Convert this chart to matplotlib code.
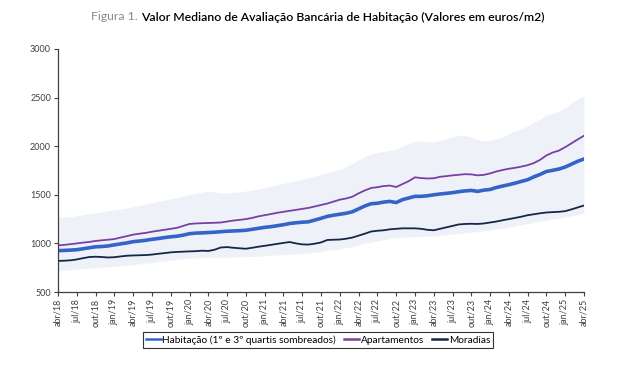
import numpy as np
import matplotlib
matplotlib.use("Agg")
import matplotlib.pyplot as plt

# monthly values, abr/18 .. abr/25 (85 months)
habitacao = [925, 928, 931, 935, 945, 955, 965, 968, 974, 985,
             995, 1005, 1018, 1024, 1032, 1042, 1050, 1060, 1068, 1074,
             1085, 1100, 1106, 1108, 1112, 1115, 1120, 1125, 1128, 1131,
             1135, 1145, 1155, 1165, 1172, 1182, 1192, 1205, 1212, 1218,
             1222, 1240, 1258, 1278, 1290, 1300, 1310, 1325, 1355, 1385,
             1408, 1413, 1425, 1432, 1420, 1450, 1467, 1484, 1484, 1490,
             1500, 1508, 1515, 1522, 1532, 1540, 1545, 1535, 1548, 1555,
             1575, 1590, 1604, 1620, 1638, 1655, 1685, 1710, 1740, 1752,
             1765, 1786, 1815, 1845, 1868]

apartamentos = [979, 985, 992, 1000, 1008, 1015, 1025, 1032, 1038, 1045,
                1060, 1075, 1090, 1100, 1108, 1120, 1130, 1140, 1150, 1160,
                1180, 1200, 1205, 1208, 1210, 1212, 1215, 1225, 1235, 1242,
                1250, 1262, 1278, 1290, 1302, 1315, 1325, 1335, 1345, 1355,
                1365, 1380, 1395, 1410, 1430, 1450, 1462, 1480, 1515, 1545,
                1570, 1578, 1590, 1595, 1580, 1610, 1640, 1680, 1672, 1668,
                1670, 1685, 1692, 1700, 1706, 1712, 1710, 1700, 1705, 1720,
                1740, 1755, 1768, 1778, 1790, 1805, 1827, 1860, 1905, 1935,
                1955, 1990, 2030, 2070, 2108]

moradias = [820, 822, 826, 835, 848, 860, 863, 860, 855, 858,
            866, 873, 876, 878, 880, 885, 893, 900, 908, 912,
            915, 918, 920, 925, 922, 935, 958, 962, 955, 950,
            945, 955, 966, 975, 985, 995, 1005, 1014, 1000, 990,
            988, 997, 1010, 1035, 1038, 1040, 1048, 1060, 1080, 1100,
            1122, 1130, 1135, 1145, 1150, 1155, 1155, 1155, 1150, 1140,
            1135, 1150, 1165, 1180, 1195, 1200, 1202, 1200, 1205, 1215,
            1225, 1238, 1250, 1262, 1275, 1290, 1300, 1310, 1318, 1322,
            1325, 1332, 1350, 1370, 1390]

quartil3 = [1270, 1272, 1275, 1285, 1295, 1305, 1315, 1325, 1335, 1345,
            1355, 1365, 1380, 1392, 1405, 1415, 1430, 1445, 1458, 1472,
            1488, 1502, 1515, 1528, 1540, 1530, 1520, 1518, 1525, 1530,
            1540, 1548, 1560, 1575, 1590, 1605, 1618, 1632, 1645, 1660,
            1672, 1690, 1710, 1730, 1745, 1760, 1790, 1820, 1860, 1890,
            1920, 1935, 1945, 1955, 1970, 2000, 2030, 2050, 2055, 2045,
            2045, 2060, 2075, 2095, 2115, 2108, 2095, 2065, 2055, 2062,
            2075, 2095, 2130, 2155, 2180, 2210, 2245, 2280, 2320, 2340,
            2360, 2400, 2445, 2485, 2520]

quartil1 = [718, 722, 728, 735, 740, 746, 752, 755, 758, 762,
            768, 774, 780, 788, 795, 803, 812, 820, 828, 835,
            842, 847, 850, 853, 856, 857, 858, 858, 860, 862,
            864, 866, 868, 872, 876, 880, 884, 888, 892, 896,
            902, 910, 918, 928, 935, 942, 955, 968, 985, 1000,
            1012, 1025, 1038, 1050, 1058, 1062, 1065, 1068, 1070, 1072,
            1075, 1080, 1088, 1095, 1100, 1108, 1115, 1122, 1130, 1138,
            1148, 1158, 1168, 1180, 1192, 1203, 1215, 1228, 1240, 1250,
            1260, 1270, 1282, 1298, 1313]

tick_labels = ["abr/18", "jul/18", "out/18", "jan/19", "abr/19", "jul/19", "out/19",
               "jan/20", "abr/20", "jul/20", "out/20", "jan/21", "abr/21", "jul/21",
               "out/21", "jan/22", "abr/22", "jul/22", "out/22", "jan/23", "abr/23",
               "jul/23", "out/23", "jan/24", "abr/24", "jul/24", "out/24", "jan/25",
               "abr/25"]

plt.rcParams['font.family'] = ['Lato', 'DejaVu Sans']

x = np.arange(len(habitacao))

fig = plt.figure(figsize=(6.34, 3.74), dpi=100)
ax = fig.add_axes([58/634, 1 - 292/374, (584 - 58)/634, (292 - 49)/374])

ax.fill_between(x, quartil1, quartil3, color="#eef2f8", linewidth=0)
ax.plot(x, habitacao, color="#3464c8", lw=2.6, label="Habitação (1º e 3º quartis sombreados)")
ax.plot(x, apartamentos, color="#7a3fa2", lw=1.3, label="Apartamentos")
ax.plot(x, moradias, color="#16264a", lw=1.3, label="Moradias")

ax.set_xlim(0, len(x) - 1)
ax.set_ylim(500, 3000)
ax.set_yticks(np.arange(500, 3001, 500))
ax.set_xticks(x[::3])
ax.set_xticklabels(tick_labels, rotation=90)
ax.tick_params(axis="both", labelsize=6.5, colors="#404040", length=3, width=0.8, pad=2)
for s in ["top", "right"]:
    ax.spines[s].set_visible(False)
for s in ["left", "bottom"]:
    ax.spines[s].set_color("#404040")
    ax.spines[s].set_linewidth(0.9)

leg = fig.legend(loc="center", bbox_to_anchor=(318/634, 1 - 340/374), ncol=3, fontsize=7.3,
                 frameon=True, fancybox=False, edgecolor="black", handlelength=1.5,
                 handletextpad=0.15, columnspacing=0.8, borderpad=0.3, borderaxespad=0)
leg.get_frame().set_linewidth(0.8)
for h in leg.get_lines():
    h.set_linewidth(1.8)

t1 = fig.text(91/634, 1 - 17/374, "Figura 1. ", color="#8a8a8a", fontsize=8.8, va="center")
ax.annotate("Valor Mediano de Avaliação Bancária de Habitação (Valores em euros/m2)",
            xy=(1, 0.5), xycoords=t1, va="center", ha="left", fontsize=8.8,
            color="black", fontweight="semibold")

fig.savefig("out.png", dpi=100)
